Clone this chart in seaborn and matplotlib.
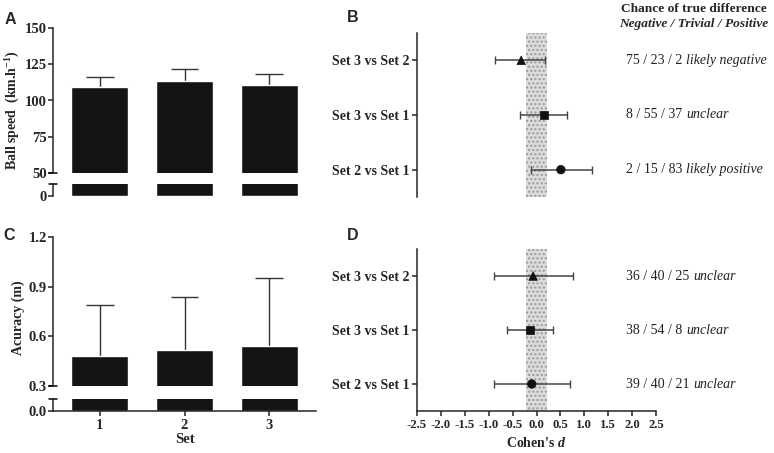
"""Ball speed / accuracy bars with Cohen's d forest plots (4 panels)."""

import matplotlib

matplotlib.use("Agg")

import matplotlib.pyplot as plt  # noqa: E402
import numpy as np  # noqa: E402
import pandas as pd  # noqa: E402
import seaborn as sns  # noqa: E402

# Bar panels (mean + SD, upward error only)
sets = ["1", "2", "3"]
ball_speed = [109.5, 113.5, 110.5]
ball_speed_sd = [7.0, 8.0, 8.0]
accuracy = [0.48, 0.515, 0.54]
accuracy_sd = [0.31, 0.32, 0.41]

# Forest panels, listed bottom to top
comparisons = ["Set 2 vs Set 1", "Set 3 vs Set 1", "Set 3 vs Set 2"]
comparison_markers = ["o", "s", "^"]
speed_d = [0.51, 0.16, -0.32]
speed_lo = [-0.11, -0.35, -0.87]
speed_hi = [1.16, 0.64, 0.18]
speed_chances = ["2 / 15 / 83", "8 / 55 / 37", "75 / 23 / 2"]
speed_inference = ["likely positive", "unclear", "likely negative"]
acc_d = [-0.10, -0.14, -0.07]
acc_lo = [-0.89, -0.62, -0.89]
acc_hi = [0.70, 0.35, 0.76]
acc_chances = ["39 / 40 / 21", "38 / 54 / 8", "36 / 40 / 25"]
acc_inference = ["unclear", "unclear", "unclear"]
trivial = [-0.23, 0.23]
d_ticks = [-2.5, -2.0, -1.5, -1.0, -0.5, 0.0, 0.5, 1.0, 1.5, 2.0, 2.5]

W, H = 774, 453

sns.set_theme(style="ticks")
plt.rcParams["font.family"] = ["Liberation Serif", "DejaVu Serif"]
plt.rcParams["font.weight"] = "bold"
plt.rcParams["axes.labelweight"] = "bold"
plt.rcParams["axes.unicode_minus"] = False
plt.rcParams["axes.linewidth"] = 1.1
plt.rcParams["xtick.major.width"] = 1.1
plt.rcParams["ytick.major.width"] = 1.1
plt.rcParams["xtick.major.size"] = 3.5
plt.rcParams["ytick.major.size"] = 3.5
plt.rcParams["mathtext.fontset"] = "custom"
plt.rcParams["mathtext.rm"] = "Liberation Serif:bold"
plt.rcParams["mathtext.it"] = "Liberation Serif:italic:bold"


def px_axes(fig, x0, y0, x1, y1):
    # pixel box (top-left origin) -> figure axes
    return fig.add_axes([x0 / W, 1 - y1 / H, (x1 - x0) / W, (y1 - y0) / H])


def break_mark(ax, y):
    ax.plot([-0.016, 0.016], [y, y], transform=ax.transAxes, color="black",
            lw=1.1, clip_on=False)


def bar_panel(ax_top, ax_bot, values, sd, top_lim, top_ticks, bot_lim,
              bot_ticks, show_x):
    df = pd.DataFrame({"set": sets, "value": values})
    for ax in (ax_top, ax_bot):
        sns.barplot(data=df, x="set", y="value", color="#141414",
                    saturation=1, width=0.67, ax=ax)
        ax.set_xlim(-0.55, 2.55)
        ax.set_xlabel("")
        ax.set_ylabel("")
        sns.despine(ax=ax)
        ax.tick_params(axis="y", labelsize=10.5, pad=1)

    # SD whisker above each bar: stem + cap
    x = np.arange(len(sets))
    tops = np.array(values) + np.array(sd)
    ax_top.vlines(x, values, tops, color="#333333", lw=1, zorder=0.5)
    ax_top.hlines(tops, x - 0.165, x + 0.165, color="#333333", lw=1)
    ax_top.set_ylim(*top_lim)
    ax_top.set_yticks(top_ticks)
    ax_top.spines["bottom"].set_visible(False)
    ax_top.tick_params(axis="x", bottom=False, labelbottom=False)
    break_mark(ax_top, 0)

    ax_bot.set_ylim(*bot_lim)
    ax_bot.set_yticks(bot_ticks)
    break_mark(ax_bot, 1)
    if show_x:
        ax_bot.tick_params(axis="x", labelsize=10.5, pad=2)
    else:
        ax_bot.spines["bottom"].set_visible(False)
        ax_bot.tick_params(axis="x", bottom=False, labelbottom=False)


def forest_panel(ax, d, lo, hi, chances, inference, show_x):
    pos = [0, 1, 2]
    d = np.array(d)
    ax.axvspan(trivial[0], trivial[1], facecolor="#dcdcdc",
               edgecolor="#999999", hatch="....", linewidth=0, zorder=0)
    ax.errorbar(d, pos, xerr=[d - np.array(lo), np.array(hi) - d],
                fmt="none", ecolor="#444444", elinewidth=1.1, capsize=3,
                capthick=1, zorder=2)
    df = pd.DataFrame({"comparison": comparisons, "d": d, "pos": pos})
    sns.scatterplot(data=df, x="d", y="pos", style="comparison",
                    markers=dict(zip(comparisons, comparison_markers)),
                    color="#111111", edgecolor="#111111", linewidth=0.5,
                    s=38, legend=False, ax=ax, zorder=3)
    ax.set_xlim(-2.5, 2.5)
    ax.set_ylim(-0.5, 2.5)
    ax.set_yticks(pos, comparisons)
    ax.tick_params(axis="y", labelsize=10, pad=2)
    ax.set_ylabel("")
    sns.despine(ax=ax)
    if show_x:
        ax.set_xticks(d_ticks, [f"{t:.1f}" for t in d_ticks])
        ax.tick_params(axis="x", labelsize=9.2, pad=2)
        ax.set_xlabel("Cohen's $\\mathit{d}$", fontsize=10, labelpad=4)
    else:
        ax.spines["bottom"].set_visible(False)
        ax.tick_params(axis="x", bottom=False, labelbottom=False)
        ax.set_xlabel("")

    # chance of true difference, with qualitative inference in italics
    for p, c, inf in zip(pos, chances, inference):
        t = ax.text(1.88, p, c, va="center", ha="left", fontsize=10,
                    fontweight="normal", color="#222222")
        ax.annotate(inf, xy=(1, 0.5), xycoords=t, xytext=(2.5, 0),
                    textcoords="offset points", va="center", ha="left",
                    fontsize=10, fontweight="normal", fontstyle="italic",
                    color="#222222")


fig = plt.figure(figsize=(W / 100, H / 100), dpi=100)

# Panel A: ball speed
ax_a = px_axes(fig, 53, 28, 316, 173)
ax_a2 = px_axes(fig, 53, 184, 316, 196)
bar_panel(ax_a, ax_a2, ball_speed, ball_speed_sd, (50, 150),
          [50, 75, 100, 125, 150], (0, 8), [0], show_x=False)
ax_a.set_ylabel("Ball speed  (km.h$^{\\mathrm{-1}}$)", fontsize=10)
ax_a.yaxis.set_label_coords(-0.118, 0.43)

# Panel C: accuracy
ax_c = px_axes(fig, 53, 237, 316, 386)
ax_c2 = px_axes(fig, 53, 399, 316, 411)
bar_panel(ax_c, ax_c2, accuracy, accuracy_sd, (0.3, 1.2),
          [0.3, 0.6, 0.9, 1.2], (0, 0.1), [0.0], show_x=True)
ax_c.yaxis.set_major_formatter("{x:.1f}")
ax_c2.yaxis.set_major_formatter("{x:.1f}")
ax_c.set_ylabel("Acuracy (m)", fontsize=10)
ax_c.yaxis.set_label_coords(-0.105, 0.46)
ax_c2.set_xlabel("Set", fontsize=10.5, labelpad=1)

# Panels B and D: effect sizes
ax_b = px_axes(fig, 417, 33, 656, 197)
forest_panel(ax_b, speed_d, speed_lo, speed_hi, speed_chances,
             speed_inference, show_x=False)
ax_d = px_axes(fig, 417, 249, 656, 411)
forest_panel(ax_d, acc_d, acc_lo, acc_hi, acc_chances, acc_inference,
             show_x=True)

fig.text(694 / W, 1 - 9 / H, "Chance of true difference", ha="center",
         va="center", fontsize=9.6)
fig.text(694 / W, 1 - 24 / H, "Negative / Trivial / Positive", ha="center",
         va="center", fontsize=9.6, fontstyle="italic")

for label, x, y in [("A", 10, 19), ("B", 353, 18), ("C", 9, 236),
                    ("D", 353, 236)]:
    fig.text(x / W, 1 - y / H, label, ha="center", va="center",
             fontsize=11.5, fontweight="bold", family="Liberation Sans")

fig.savefig("out.png", dpi=100)
plt.close(fig)
